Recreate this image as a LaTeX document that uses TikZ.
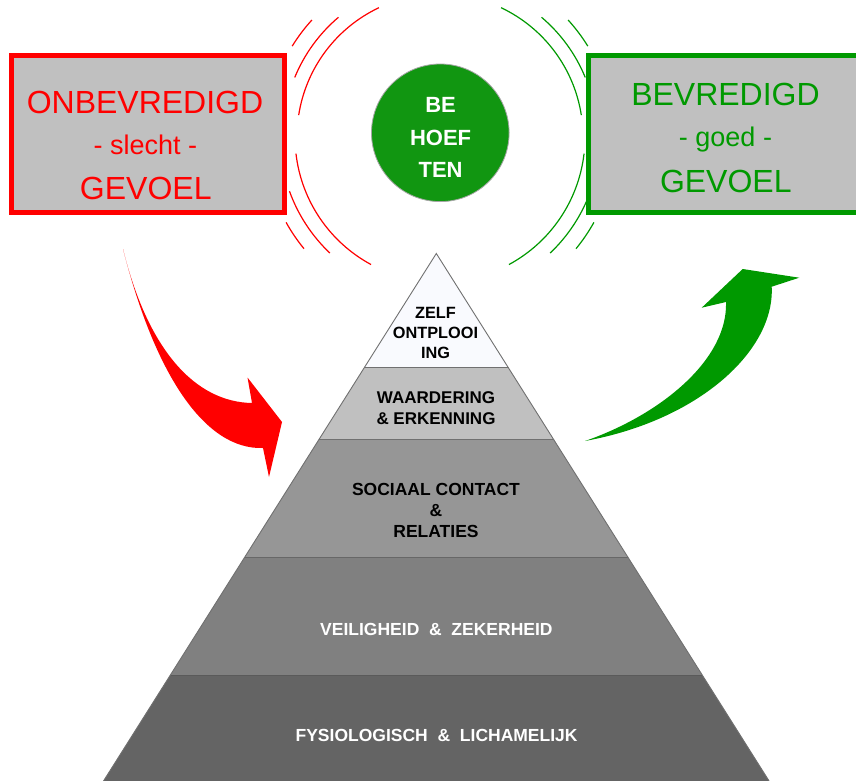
\documentclass[tikz,border=0pt]{standalone}
\usepackage{fontspec}
\setmainfont{Liberation Sans}
\definecolor{myred}{HTML}{FF0000}
\definecolor{mygreen}{HTML}{009900}
\definecolor{circgreen}{HTML}{119611}
\definecolor{boxgray}{HTML}{C0C0C0}
\definecolor{layA}{HTML}{F9FAFE}
\definecolor{layB}{HTML}{C0C0C0}
\definecolor{layC}{HTML}{969696}
\definecolor{layD}{HTML}{808080}
\definecolor{layE}{HTML}{646464}
\definecolor{edgegray}{HTML}{707070}
\begin{document}
\begin{tikzpicture}[x=1pt,y=-1pt,
  feelbox/.style={draw, line width=5pt, fill=boxgray, inner sep=0pt},
  bigtxt/.style={font=\fontsize{32}{38}\selectfont, anchor=base, inner sep=0pt},
  midtxt/.style={font=\fontsize{27}{32}\selectfont, anchor=base, inner sep=0pt},
  wave/.style={line width=1.2pt},
  laytxt/.style={align=center, inner sep=0pt},
  bignote/.style={draw=none},
]
\useasboundingbox (0,0) rectangle (856,781);
\clip (0,0) rectangle (856,781);

% waves
\foreach \a/\b/\r in {244.7/188.8/143, 229.7/202.3/157, 222.4/211.6/173.5, 151/140.6/176, 160.2/133.5/160, 173.4/118.4/145}
  \draw[wave, myred] (440,137) ++(\a:\r) arc[start angle=\a, end angle=\b, radius=\r];
\foreach \a/\b/\r in {-64.7/-8.8/143, -49.7/-22.3/157, -42.4/-31.6/173.5, 29/39.4/176, 19.8/46.5/160, 6.6/61.6/145}
  \draw[wave, mygreen] (440,137) ++(\a:\r) arc[start angle=\a, end angle=\b, radius=\r];

% boxes
\node[feelbox, draw=myred, minimum width=273pt, minimum height=157pt] (bad) at (148,134) {};
\node[bigtxt, text=myred] (badA) at (145,113.3) {ONBEVREDIGD};
\node[midtxt, text=myred] (badB) at (145.5,154) {- slecht -};
\node[bigtxt, text=myred] (badC) at (145.8,199) {GEVOEL};

\node[feelbox, draw=mygreen, minimum width=311.5pt, minimum height=157pt] (good) at (744.25,134) {};
\node[bigtxt, text=mygreen] (goodA) at (725.5,106) {BEVREDIGD};
\node[midtxt, text=mygreen] (goodB) at (725.5,146.7) {- goed -};
\node[bigtxt, text=mygreen] (goodC) at (725.8,192) {GEVOEL};

% circle
\node[circle, fill=circgreen, draw=gray!70, line width=0.8pt, minimum size=137.6pt, inner sep=0pt] (needs) at (440.3,132.8) {};
\node[laytxt, text=white, font=\bfseries\fontsize{22}{32.7}\selectfont] (needsT) at (440.6,137.5) {BE\\HOEF\\TEN};

% pyramid
\coordinate (apex) at (436.3,253.5);
\coordinate (bl) at (103.5,781);
\coordinate (br) at (769.1,781);
\begin{scope}
  \clip (apex) -- (bl) -- (br) -- cycle;
  \fill[layA] (90,240) rectangle (790,367.3);
  \fill[layB] (90,367.3) rectangle (790,439);
  \fill[layC] (90,439) rectangle (790,557);
  \fill[layD] (90,557) rectangle (790,675);
  \fill[layE] (90,675) rectangle (790,790);
  \draw[edgegray, line width=0.9pt] (90,367.3) -- (790,367.3);
  \draw[edgegray, line width=0.9pt] (90,439) -- (790,439);
  \draw[layD!80!black, line width=0.9pt] (90,557) -- (790,557);
  \draw[layE!90!black, line width=0.9pt] (90,675) -- (790,675);
\end{scope}
\draw[edgegray, line width=0.9pt] (bl) -- (apex) -- (br);

\node[laytxt, font=\bfseries\fontsize{16.3}{20}\selectfont] (l1) at (435.5,333.3) {ZELF\\ONTPLOOI\\ING};
\node[laytxt, font=\bfseries\fontsize{17}{20.6}\selectfont] (l2) at (436,408) {WAARDERING\\\& ERKENNING};
\node[laytxt, font=\bfseries\fontsize{17.5}{21.3}\selectfont] (l3) at (436,510.3) {SOCIAAL CONTACT\\\&\\RELATIES};
\node[laytxt, text=white, font=\bfseries\fontsize{17.5}{21}\selectfont] (l4) at (436.4,629.2) {VEILIGHEID\ \ \&\ \ ZEKERHEID};
\node[laytxt, text=white, font=\bfseries\fontsize{17.5}{21}\selectfont] (l5) at (436.6,735.8) {FYSIOLOGISCH\ \ \&\ \ LICHAMELIJK};

% arrows
\fill[myred] (123,249) .. controls (148,350) and (195,402) .. (252,403)
  -- (247.5,377.5) -- (282,422) -- (269,477) -- (263,448)
  .. controls (205,450) and (155,375) .. (123,249) -- cycle;
\fill[mygreen] (585,441) .. controls (660,415) and (728,360) .. (726,302)
  -- (701.7,307.7) -- (742.7,269) -- (799.3,277.7) -- (771.7,286.7)
  .. controls (775,350) and (700,420) .. (585,441) -- cycle;
\end{tikzpicture}
\end{document}
